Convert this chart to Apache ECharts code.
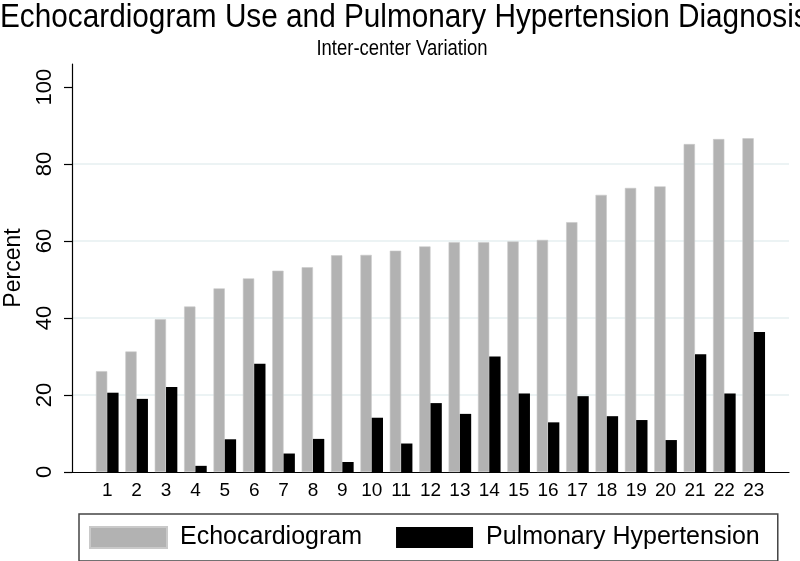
<!DOCTYPE html>
<html lang="en">
<head>
    <meta charset="UTF-8">
    <title>Echocardiogram Use and Pulmonary Hypertension Diagnosis</title>
    <script src="https://cdn.jsdelivr.net/npm/echarts@6.0.0/dist/echarts.min.js"></script>
    <style>
        html, body { margin: 0; padding: 0; background: #fff; }
    </style>
</head>
<body>
<div id="main" style="width: 800px;height:561px;"></div>
<script type="text/javascript">
    // centers (x positions) and their labels
    var centers = [1, 2, 3, 4, 5, 6, 7, 8, 9, 10, 11, 12, 13, 14, 15, 16, 17, 18, 19, 20, 21, 22, 23];
    // percent of patients with an echocardiogram, per center
    var echoValues = [26.2, 31.3, 39.7, 43.0, 47.7, 50.3, 52.3, 53.2, 56.3, 56.4, 57.5, 58.6, 59.7, 59.7, 59.9, 60.3,
        64.9, 72.0, 73.8, 74.2, 85.2, 86.5, 86.7];
    // percent with a pulmonary hypertension diagnosis, per center
    var phValues = [20.6, 19.0, 22.1, 1.6, 8.5, 28.1, 4.8, 8.6, 2.6, 14.1, 7.4, 17.9, 15.1, 30.0, 20.4, 12.9,
        19.7, 14.5, 13.5, 8.3, 30.6, 20.4, 36.4];
    var yTicks = [0, 20, 40, 60, 80, 100];

    var font = 'Liberation Sans, Arial, Helvetica, sans-serif';

    var echoData = [];
    var phData = [];
    for (var i = 0; i < centers.length; i++) {
        echoData.push([centers[i], echoValues[i]]);
        phData.push([centers[i], phValues[i]]);
    }

    var myChart = echarts.init(document.getElementById('main'));
    var option = {
        backgroundColor: '#fff',
        animation: false,
        // titles drawn as text elements so they can be squeezed like the original
        graphic: [{
            type: 'text',
            x: 0,
            y: 1,
            scaleX: 0.875,
            style: {
                text: 'Echocardiogram Use and Pulmonary Hypertension Diagnosis',
                font: '34px ' + font,
                fill: '#000',
                textAlign: 'left',
                textVerticalAlign: 'top'
            }
        }, {
            type: 'text',
            x: 402,
            y: 38,
            scaleX: 0.84,
            style: {
                text: 'Inter-center Variation',
                font: '22px ' + font,
                fill: '#000',
                textAlign: 'center',
                textVerticalAlign: 'top'
            }
        }],
        legend: {
            left: 79,
            top: 514,
            orient: 'horizontal',
            itemWidth: 77,
            itemHeight: 21,
            itemGap: 34,
            padding: [11, 18, 11, 10],
            borderColor: '#444',
            borderWidth: 1.5,
            icon: 'rect',
            textStyle: {fontFamily: font, fontSize: 25, color: '#000', lineHeight: 25, padding: [0, 0, 0, 8]},
            data: ['Echocardiogram', 'Pulmonary Hypertension']
        },
        grid: {left: 72, right: 11, top: 64, bottom: 89, outerBoundsMode: 'none'},
        xAxis: {
            type: 'value',
            min: -0.2,
            max: 24.2,
            axisLine: {show: true, onZero: false, lineStyle: {color: '#000', width: 1.2}},
            axisTick: {show: false},
            splitLine: {show: false},
            axisLabel: {
                customValues: centers,
                margin: 9,
                fontFamily: font,
                fontSize: 19,
                color: '#000'
            }
        },
        yAxis: {
            type: 'value',
            min: 0,
            max: 106,
            name: 'Percent',
            nameLocation: 'middle',
            nameRotate: 90,
            nameGap: 47,
            nameTextStyle: {fontFamily: font, fontSize: 23, color: '#000'},
            axisLine: {show: true, onZero: false, lineStyle: {color: '#000', width: 1.2}},
            axisTick: {show: true, customValues: yTicks, length: 8, lineStyle: {color: '#000', width: 1.2}},
            axisLabel: {
                customValues: yTicks,
                rotate: 90,
                margin: 16,
                fontFamily: font,
                fontSize: 22,
                color: '#000'
            },
            splitLine: {
                show: true,
                lineStyle: {
                    color: ['rgba(0,0,0,0)', '#e6eff0', '#e6eff0', '#e6eff0', '#e6eff0', 'rgba(0,0,0,0)', 'rgba(0,0,0,0)'],
                    width: 1.5
                }
            }
        },
        series: [{
            name: 'Echocardiogram',
            type: 'bar',
            barWidth: 11.3,
            barGap: '0%',
            itemStyle: {color: '#b2b2b2', borderColor: '#c9c9c9', borderWidth: 0.6},
            data: echoData
        }, {
            name: 'Pulmonary Hypertension',
            type: 'bar',
            barWidth: 11.3,
            barGap: '0%',
            itemStyle: {color: '#000'},
            data: phData
        }]
    };
    myChart.setOption(option);
</script>
</body>
</html>
